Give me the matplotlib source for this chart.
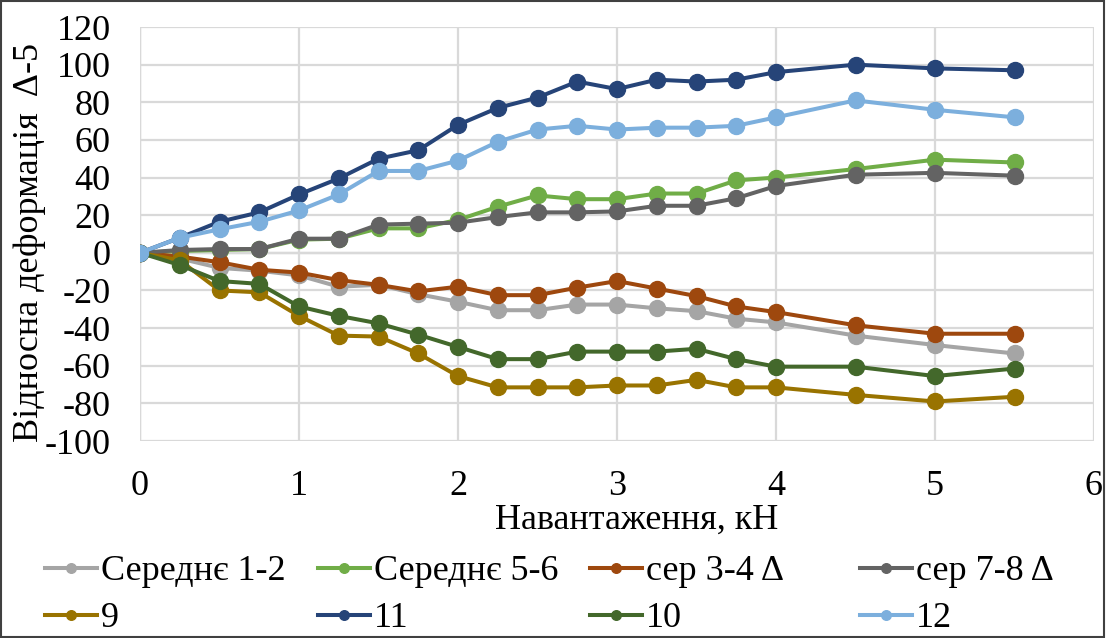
import matplotlib
matplotlib.use("Agg")
import matplotlib.pyplot as plt
from matplotlib.patches import Rectangle

plt.rcParams['font.family'] = ['Liberation Serif', 'DejaVu Serif']
plt.rcParams['axes.unicode_minus'] = False

# Load steps, kN
load = [0, 0.25, 0.5, 0.75, 1, 1.25, 1.5, 1.75, 2, 2.25, 2.5, 2.75, 3,
        3.25, 3.5, 3.75, 4, 4.5, 5, 5.5]

# Relative strain readings per gauge group
avg_1_2 = [0, -3, -8, -9.5, -12, -18, -17, -22, -26, -30.5, -30.5, -27.5,
           -27.5, -29.5, -31, -35, -37, -44, -49, -53.5]
avg_5_6 = [0, 1, 1.5, 2, 7, 7.5, 13, 13, 17.5, 24.5, 30.5, 28.5, 28.5,
           31.5, 31.5, 38.5, 40, 44.5, 49.5, 48]
avg_3_4 = [0, -2, -5, -9, -10.5, -14.5, -17, -20.5, -18, -22.5, -22.5,
           -18.5, -15, -19, -23, -28.5, -31.5, -38.5, -43, -43]
avg_7_8 = [0, 1.5, 2, 2, 7.5, 7.5, 15, 15.5, 16, 19, 21.5, 21.5, 22,
           25, 25, 29, 35.5, 41.5, 42.5, 41]
g9 = [0, -4, -20, -21, -33.5, -44, -44.5, -53.5, -65.5, -71.5, -71.5,
      -71.5, -70.5, -70.5, -67.5, -71.5, -71.5, -75.5, -79, -76.5]
g11 = [0, 8, 16.5, 21.5, 31, 39.5, 50, 54.5, 68, 77, 82.5, 91, 87, 92,
       91, 92, 96, 100, 98, 97]
g10 = [0, -6.5, -15, -16.5, -28.5, -33.5, -37.5, -43.5, -50, -56.5,
       -56.5, -52.5, -52.5, -52.5, -51, -56.5, -60.5, -60.5, -65.5, -61.5]
g12 = [0, 8, 12.5, 16.5, 22.5, 31, 43.5, 43.5, 49, 59, 65.5, 67.5, 65.5,
       66.5, 66.5, 67.5, 72, 81, 76, 72]

series = [
    ("Середнє 1-2", avg_1_2, "#A5A5A5"),
    ("Середнє 5-6", avg_5_6, "#70AD47"),
    ("сер 3-4 Δ", avg_3_4, "#9E480E"),
    ("сер 7-8 Δ", avg_7_8, "#636363"),
    ("9", g9, "#997300"),
    ("11", g11, "#264478"),
    ("10", g10, "#43682B"),
    ("12", g12, "#7CAFDD"),
]

x_ticks = [0, 1, 2, 3, 4, 5, 6]
y_ticks = list(range(-100, 121, 20))

W, H = 1106, 638
FS = 26
fig = plt.figure(figsize=(W / 100, H / 100), dpi=100)
ax = fig.add_axes([140 / W, (H - 441) / H, 954 / W, 414 / H])

lines = []
for name, vals, col in series:
    ln, = ax.plot(load, vals, color=col, lw=2.9, marker='o', ms=11.5,
                  label=name)
    lines.append(ln)

ax.set_xlim(0, 6)
ax.set_ylim(-100, 120)
ax.set_xticks(x_ticks)
ax.set_yticks(y_ticks)
ax.grid(True, color="#D9D9D9", lw=1.6)
ax.set_axisbelow(True)
for s in ax.spines.values():
    s.set_visible(False)
ax.axhline(0, color="#BFBFBF", lw=1.6, zorder=0.5)
ax.axvline(0, color="#BFBFBF", lw=1.6, zorder=0.5)
ax.tick_params(length=0, labelsize=FS, colors="black")
ax.tick_params(axis='y', pad=21)
ax.tick_params(axis='x', pad=21)

fig.text(637 / W, 1 - 520 / H, "Навантаження, кН", ha='center',
         va='center', fontsize=FS)
fig.text(30 / W, 1 - 242 / H, "Відносна деформація  Δ-5", ha='center',
         va='center', rotation=90, fontsize=FS)

# Legend: two rows, four equally spaced columns
col_x = [45, 318, 590, 860]
for c in range(4):
    pair = [lines[c], lines[c + 4]]
    leg = fig.legend(pair, [l.get_label() for l in pair], loc='upper left',
                     bbox_to_anchor=(col_x[c] / W, 1 - 555 / H),
                     frameon=False, fontsize=FS, markerscale=0.6,
                     handlelength=1.45, handletextpad=0.1, borderpad=0,
                     borderaxespad=0, labelspacing=0.38)

fig.add_artist(Rectangle((0.001, 0.001), 0.997, 0.997, transform=fig.transFigure,
                         fill=False, edgecolor="#404040", lw=1.5))

fig.savefig("out.png", dpi=100)
